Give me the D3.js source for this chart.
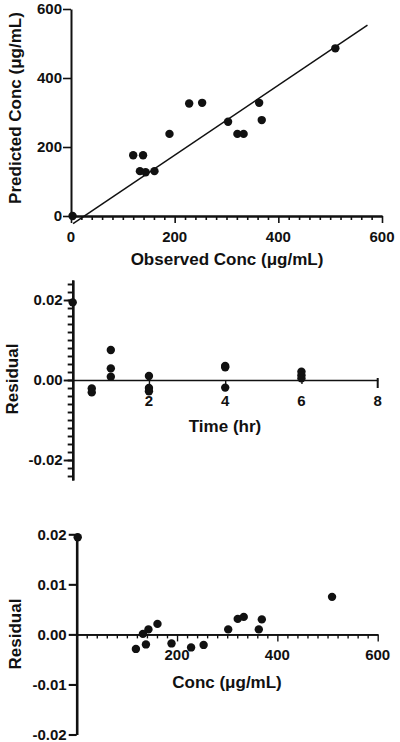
<!DOCTYPE html>
<html>
<head>
<meta charset="utf-8">
<script src="https://cdn.jsdelivr.net/npm/d3@7"></script>
<style>
  body { margin: 0; background: #fff; }
  svg text { font-family: "Liberation Sans", Arial, sans-serif; font-weight: bold; fill: #111; }
  .axis path, .axis line { stroke: #111; }
</style>
</head>
<body>
<svg id="chart" width="400" height="742"></svg>
<script>
// Predicted vs observed
const observed  = [3, 120, 133, 139, 144, 161, 190, 228, 253, 303, 321, 333, 363, 368, 510];
const predicted = [0, 176, 130, 176, 127, 130, 238, 326, 328, 273, 238, 238, 328, 278, 486];
const fitLineX = [4, 572];
const fitLineY = [-22, 553];
const concTicks = [0, 200, 400, 600];

// Residual vs time
const timeHr = [0, 0.5, 0.5, 1, 1, 1, 2, 2, 2, 4, 4, 4, 6, 6, 6];
const timeResidual = [0.0194, -0.0021, -0.0031, 0.0075, 0.0029, 0.0008, 0.001, -0.002, -0.0028, 0.0035, 0.0032, -0.0019, 0.0021, 0.0012, 0.0004];
const timeTicks = [2, 4, 6, 8];
const residTicks2 = [-0.02, 0, 0.02];

// Residual vs concentration
const concValues = [2, 118, 132, 138, 143, 161, 189, 228, 253, 302, 321, 333, 363, 369, 509];
const concResidual = [0.0194, -0.0029, 0.0001, -0.002, 0.001, 0.0021, -0.0018, -0.0026, -0.0021, 0.001, 0.0031, 0.0035, 0.001, 0.003, 0.0075];
const residTicks3 = [-0.02, -0.01, 0, 0.01, 0.02];
const concTicks3 = [200, 400, 600];

const svg = d3.select('#chart');
const DOT = 4.2;

function drawAxis(g, axis, width) {
    g.attr('class', 'axis').call(axis);
    g.selectAll('text').remove();
    g.select('.domain').attr('stroke-width', width);
    g.selectAll('.tick line').attr('stroke-width', width * 0.8);
    return g;
}

function dots(data, x, y) {
    svg.append('g').selectAll('circle')
        .data(data)
        .enter().append('circle')
        .attr('cx', d => x(d[0]))
        .attr('cy', d => y(d[1]))
        .attr('r', DOT)
        .attr('fill', '#111');
}

function label(txt, x, y, anchor, size, rotate) {
    const t = svg.append('text')
        .attr('text-anchor', anchor)
        .attr('font-size', size)
        .text(txt);
    if (rotate) {
        t.attr('transform', `translate(${x},${y}) rotate(-90)`).attr('dy', '0.35em');
    } else {
        t.attr('x', x).attr('y', y).attr('dy', '0.35em');
    }
}

// ---------- Chart 1 ----------
const x1 = d3.scaleLinear().domain([0, 600]).range([71, 382]);
const y1 = d3.scaleLinear().domain([0, 600]).range([216, 9]);

drawAxis(svg.append('g').attr('transform', `translate(0,${y1(0)})`),
    d3.axisBottom(x1).tickValues(d3.range(20, 600, 20).filter(v => v % 200)).tickSize(4).tickSizeOuter(0), 2);
drawAxis(svg.append('g').attr('transform', `translate(0,${y1(0)})`),
    d3.axisBottom(x1).tickValues(concTicks).tickSize(7).tickSizeOuter(0), 2);
drawAxis(svg.append('g').attr('transform', `translate(${x1(0)},0)`),
    d3.axisLeft(y1).tickValues(concTicks).tickSize(8).tickSizeOuter(0), 2);

concTicks.forEach(v => {
    label(v, x1(v), y1(0) + 21, 'middle', 15);
    label(v, x1(0) - 9, y1(v), 'end', 15);
});

svg.append('line')
    .attr('x1', x1(fitLineX[0])).attr('y1', y1(fitLineY[0]))
    .attr('x2', x1(fitLineX[1])).attr('y2', y1(fitLineY[1]))
    .attr('stroke', '#111').attr('stroke-width', 1.5);

dots(observed.map((v, i) => [v, predicted[i]]), x1, y1);

label('Observed Conc (μg/mL)', 227, 259, 'middle', 17);
label('Predicted Conc (μg/mL)', 15, 108, 'middle', 17, true);

// ---------- Chart 2 ----------
const x2 = d3.scaleLinear().domain([0, 8]).range([72.7, 377.7]);
const y2 = d3.scaleLinear().domain([-0.025, 0.025]).range([480, 280]);

drawAxis(svg.append('g').attr('transform', `translate(0,${y2(0)})`),
    d3.axisBottom(x2).tickValues([2, 4, 6]).tickSize(4).tickSizeOuter(0), 1.7);
svg.append('line')
    .attr('x1', x2(8)).attr('x2', x2(8))
    .attr('y1', y2(0) - 2).attr('y2', y2(0) + 8)
    .attr('stroke', '#111').attr('stroke-width', 2);
drawAxis(svg.append('g').attr('transform', `translate(${x2(0)},0)`),
    d3.axisLeft(y2).tickValues(d3.range(-24, 25, 2).map(v => v / 1000)).tickSize(5).tickSizeOuter(0), 2.4);
drawAxis(svg.append('g').attr('transform', `translate(${x2(0)},0)`),
    d3.axisLeft(y2).tickValues(residTicks2).tickSize(9).tickSizeOuter(0), 2.4);

timeTicks.forEach(v => label(v, x2(v), y2(0) + 21, 'middle', 15));
residTicks2.forEach(v => label(v.toFixed(2), x2(0) - 10, y2(v), 'end', 15));

dots(timeHr.map((v, i) => [v, timeResidual[i]]), x2, y2);

label('Time (hr)', 225, 426, 'middle', 17);
label('Residual', 12, 379, 'middle', 17, true);

// ---------- Chart 3 ----------
const x3 = d3.scaleLinear().domain([0, 600]).range([76.7, 377.7]);
const y3 = d3.scaleLinear().domain([-0.02, 0.02]).range([734.5, 534.3]);

drawAxis(svg.append('g').attr('transform', `translate(0,${y3(0)})`),
    d3.axisBottom(x3).tickValues(d3.range(20, 600, 20).filter(v => v % 200)).tickSize(4).tickSizeOuter(0), 1.7);
drawAxis(svg.append('g').attr('transform', `translate(0,${y3(0)})`),
    d3.axisBottom(x3).tickValues(concTicks3).tickSize(7).tickSizeOuter(0), 1.7);
drawAxis(svg.append('g').attr('transform', `translate(${x3(0)},0)`),
    d3.axisLeft(y3).tickValues(residTicks3).tickSize(8).tickSizeOuter(0), 2.6);

concTicks3.forEach(v => label(v, x3(v), y3(0) + 20, 'middle', 15));
residTicks3.forEach(v => label(v.toFixed(2), x3(0) - 10, y3(v), 'end', 15));

dots(concValues.map((v, i) => [v, concResidual[i]]), x3, y3);

label('Conc (μg/mL)', 227, 682, 'middle', 17);
label('Residual', 15, 634, 'middle', 17, true);
</script>
</body>
</html>
